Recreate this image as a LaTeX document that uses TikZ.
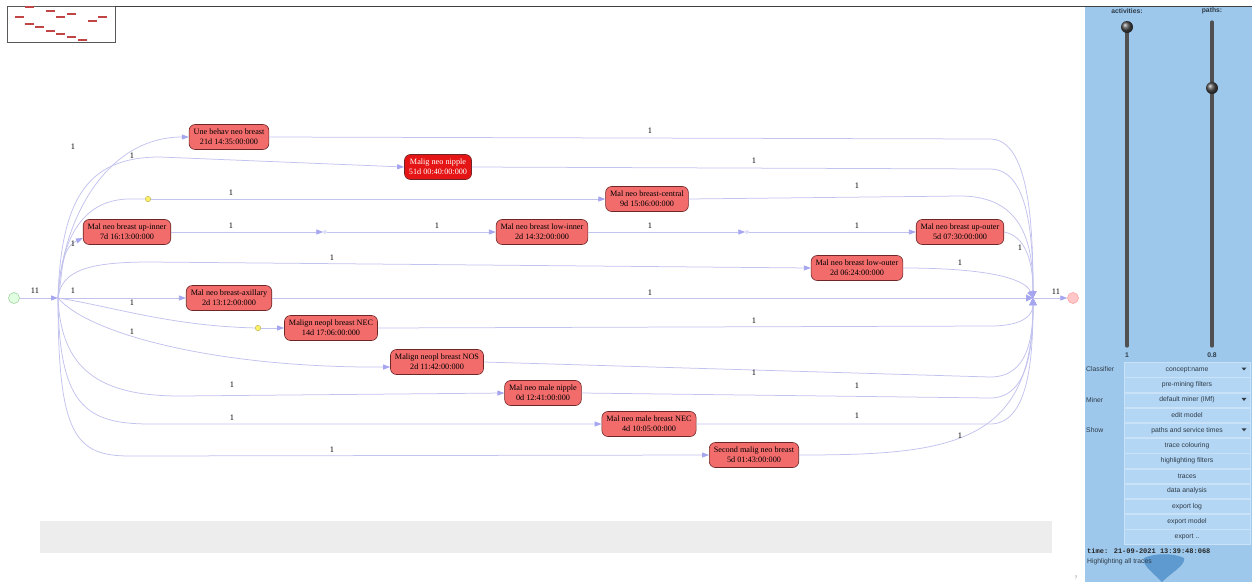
\documentclass[tikz,border=0pt]{standalone}
\usepackage{fontspec}
\setmainfont{Liberation Serif}
\newfontfamily\uisans{Liberation Sans}
\newfontfamily\uimono{Liberation Mono}
\usetikzlibrary{arrows.meta,shapes.geometric}

\definecolor{edgec}{HTML}{C2C2EF}
\definecolor{tipc}{HTML}{A6A6F0}
\definecolor{actfill}{HTML}{F26C6C}
\definecolor{actdraw}{HTML}{6E2626}
\definecolor{hotfill}{HTML}{E51515}
\definecolor{panelc}{HTML}{9DC8EC}
\definecolor{buttonc}{HTML}{B3D6F4}
\definecolor{buttonline}{HTML}{C9E2F7}
\definecolor{mapred}{HTML}{C24545}
\definecolor{trackc}{HTML}{505050}
\definecolor{uitext}{HTML}{2E3A46}
\definecolor{leafc}{HTML}{4F8FC8}

\tikzset{
  act/.style={rectangle, rounded corners=6pt, draw=actdraw, fill=actfill,
    line width=0.6pt, align=center, inner xsep=4.5pt, inner ysep=2pt,
    minimum height=25pt, font=\fontsize{8.2}{9.6}\selectfont},
  hot/.style={act, fill=hotfill, text=white},
  edge/.style={draw=edgec, line width=0.75pt},
  tip/.style={edge, -{Triangle[length=7pt,width=5pt,color=tipc]}},
  jointip/.style={edge, -{Triangle[length=7pt,width=7pt,color=tipc]}},
  lbl/.style={font=\fontsize{8.4}{9}\selectfont, inner sep=0pt},
  token/.style={circle, fill=yellow!90!orange!60, draw=yellow!60!black, line width=0.3pt,
    minimum size=5.5pt, inner sep=0pt},
  relay/.style={circle, fill=white, draw=edgec, line width=0.5pt, minimum size=3pt, inner sep=0pt},
  uibutton/.style={rectangle, fill=buttonc, draw=buttonline, line width=0.4pt,
    minimum width=126pt, minimum height=14.4pt, inner sep=0pt,
    font=\uisans\fontsize{6.8}{8}\selectfont, text=uitext},
  uilabel/.style={anchor=west, inner sep=0pt, font=\uisans\fontsize{6.8}{8}\selectfont, text=uitext},
  sliderlbl/.style={inner sep=0pt, font=\uisans\bfseries\fontsize{6.8}{7.5}\selectfont, text=uitext},
}

\begin{document}
\begin{tikzpicture}[x=1pt,y=-1pt]
\useasboundingbox (0,0) rectangle (1252,582);
\fill[white] (0,0) rectangle (1252,582);

% ---------- overview thumbnail ----------
\draw[black!65, line width=0.8pt] (7,6) rectangle (115,42);
\draw[black!75, line width=0.8pt] (115,6) -- (1252,6);
\foreach \mx/\my in {29/7, 50/11, 19/17, 60/17, 71/14, 92/21, 102/17,
                     29/24, 39/27, 50/31, 60/34, 71/37, 82/40}
  \fill[mapred] (\mx-4.5,\my-1.2) rectangle (\mx+4.5,\my+1.2);

% ---------- message bar ----------
\fill[black!7] (40,521) rectangle (1052,553);

% ---------- start / end ----------
\node[circle, minimum size=11pt, inner sep=0pt, fill=green!12, draw=green!45!black!40, line width=0.5pt] (start) at (14,298) {};
\node[circle, minimum size=11pt, inner sep=0pt, fill=red!22, draw=red!40, line width=0.5pt] (finish) at (1073,298) {};
\coordinate (S) at (58,298);
\coordinate (J) at (1033,298);

% ---------- activities ----------
\node[act] (n1)  at (229,137) {Une behav neo breast\\21d 14:35:00:000};
\node[hot] (n2)  at (438,167) {Malig neo nipple\\51d 00:40:00:000};
\node[act] (n3)  at (647,199) {Mal neo breast-central\\9d 15:06:00:000};
\node[act] (n4)  at (127,232) {Mal neo breast up-inner\\7d 16:13:00:000};
\node[act] (n5)  at (542,232) {Mal neo breast low-inner\\2d 14:32:00:000};
\node[act] (n6)  at (960,232) {Mal neo breast up-outer\\5d 07:30:00:000};
\node[act] (n7)  at (857,268) {Mal neo breast low-outer\\2d 06:24:00:000};
\node[act] (n8)  at (229,298) {Mal neo breast-axillary\\2d 13:12:00:000};
\node[act] (n9)  at (331,328) {Malign neopl breast NEC\\14d 17:06:00:000};
\node[act] (n10) at (437,362) {Malign neopl breast NOS\\2d 11:42:00:000};
\node[act] (n11) at (543,393) {Mal neo male nipple\\0d 12:41:00:000};
\node[act] (n12) at (649,424) {Mal neo male breast NEC\\4d 10:05:00:000};
\node[act] (n13) at (754,455) {Second malig neo breast\\5d 01:43:00:000};

% relay points on the sequence up-inner -> low-inner -> up-outer
\node[relay] (m1) at (325,232) {};
\node[relay] (m2) at (747,232) {};

% tokens in flight
\node[token] (t1) at (148,199) {};
\node[token] (t2) at (258,328) {};

% ---------- connectors from the split ----------
\draw[tip] (start) -- (S);
\draw[tip] (S) to[out=87,in=180] (n1.west);
\draw[tip] (S) .. controls (61,195) and (90,157) .. (160,157) -- (n2.west);
\draw[edge] (S) .. controls (61,235) and (85,199) .. (130,199) -- (t1);
\draw[tip] (t1) -- (n3.west);
\draw[tip] (S) to[out=78,in=205] ([yshift=-6pt]n4.west);
\draw[tip] (S) .. controls (61,270) and (90,262) .. (150,262) -- (n7.west);
\draw[tip] (S) -- (n8.west);
\draw[edge] (S) .. controls (110,306) and (170,326) .. (t2);
\draw[tip] (t2) -- (n9.west);
\draw[tip] (S) .. controls (90,335) and (220,368) .. ([yshift=-5pt]n10.west);
\draw[tip] (S) .. controls (61,370) and (100,396) .. (180,396) -- (n11.west);
\draw[tip] (S) .. controls (59,405) and (85,424) .. (150,424) -- (n12.west);
\draw[tip] (S) .. controls (58,435) and (75,456) .. (130,456) -- (n13.west);

% sequence chain
\draw[tip] (n4.east) -- (m1);
\draw[tip] (m1) -- (n5.west);
\draw[tip] (n5.east) -- (m2);
\draw[tip] (m2) -- (n6.west);

% ---------- connectors into the join ----------
\draw[jointip] (n1.east) -- (990,139) .. controls (1028,139) and (1033,219) .. (J);
\draw[jointip] (n2.east) -- (990,169) .. controls (1028,169) and (1033,234) .. (J);
\draw[jointip] (n3.east) -- (960,196) .. controls (1025,196) and (1033,247) .. (J);
\draw[jointip] (n6.east) .. controls (1025,236) and (1033,260) .. (J);
\draw[jointip] (n7.east) .. controls (985,268) and (1025,278) .. (J);
\draw[jointip] (n8.east) -- (J);
\draw[jointip] (n9.east) -- (990,326) .. controls (1028,326) and (1033,312) .. (J);
\draw[jointip] (n10.east) -- (990,377) .. controls (1028,377) and (1033,338) .. (J);
\draw[jointip] (n11.east) -- (990,398) .. controls (1028,398) and (1033,348) .. (J);
\draw[jointip] (n12.east) -- (990,424) .. controls (1028,424) and (1033,361) .. (J);
\draw[jointip] (n13.east) .. controls (950,455) and (1033,445) .. (J);
\draw[tip] (J) -- (finish);

% ---------- frequency labels ----------
\node[lbl] (f0)  at (35,291)   {11};
\node[lbl] (f27) at (1056,292) {11};
\node[lbl] (f1)  at (650,131) {1};
\node[lbl] (f2)  at (73,147)  {1};
\node[lbl] (f3)  at (132,156) {1};
\node[lbl] (f4)  at (754,161) {1};
\node[lbl] (f5)  at (231,193) {1};
\node[lbl] (f6)  at (857,186) {1};
\node[lbl] (f7)  at (231,226) {1};
\node[lbl] (f8)  at (437,226) {1};
\node[lbl] (f9)  at (650,226) {1};
\node[lbl] (f10) at (857,226) {1};
\node[lbl] (f11) at (73,244)  {1};
\node[lbl] (f12) at (1020,248) {1};
\node[lbl] (f13) at (332,258) {1};
\node[lbl] (f14) at (960,263) {1};
\node[lbl] (f15) at (73,291)  {1};
\node[lbl] (f16) at (650,293) {1};
\node[lbl] (f17) at (132,303) {1};
\node[lbl] (f18) at (132,332) {1};
\node[lbl] (f19) at (754,321) {1};
\node[lbl] (f20) at (754,373) {1};
\node[lbl] (f21) at (232,385) {1};
\node[lbl] (f22) at (857,386) {1};
\node[lbl] (f23) at (232,418) {1};
\node[lbl] (f24) at (857,416) {1};
\node[lbl] (f25) at (332,450) {1};
\node[lbl] (f26) at (960,436) {1};

% ---------- control panel ----------
\fill[panelc] (1085,7) rectangle (1252,582);
\node[sliderlbl] (actlbl) at (1127,11) {activities:};
\node[sliderlbl] (pathlbl) at (1212,11) {paths:};
\draw[trackc, line width=3.2pt, line cap=round] (1127,27) -- (1127,346);
\draw[trackc, line width=3.2pt, line cap=round] (1212,22) -- (1212,346);
\shade[ball color=black!70] (1127,27) circle (6pt);
\shade[ball color=black!70] (1212,88) circle (6pt);
\node[sliderlbl] (actval) at (1127,355) {1};
\node[sliderlbl] (pathval) at (1212,355) {0.8};

\foreach \i/\txt in {0/concept:name, 1/pre-mining filters, 2/default miner (IMf),
                     3/edit model, 4/paths and service times, 5/trace colouring,
                     6/highlighting filters, 7/traces, 8/data analysis,
                     9/export log, 10/export model, 11/export ..}
  \node[uibutton] (b\i) at (1187,369.5+15.2*\i) {\txt};
\foreach \i in {0,2,4}
  \fill[uitext] (1241.5,367.5+15.2*\i) -- (1246.5,367.5+15.2*\i) -- (1244,370.5+15.2*\i) -- cycle;

\node[uilabel] (cl) at (1086,369.5) {Classifier};
\node[uilabel] (mi) at (1086,399.9) {Miner};
\node[uilabel] (sh) at (1086,430.3) {Show};

% leaf-shaped pointer badge at the bottom of the panel
\fill[leafc, opacity=0.8] (1162,582) .. controls (1152,572) and (1142,565) .. (1144,558)
  .. controls (1154,553) and (1174,553) .. (1184,558)
  .. controls (1186,565) and (1172,572) .. (1162,582) -- cycle;

\node[anchor=west, inner sep=0pt, font=\uimono\bfseries\fontsize{7}{8}\selectfont, text=black!85] (clock) at (1087,551) {time: 21-09-2021 13:39:48:068};
\node[anchor=west, inner sep=0pt, font=\uisans\fontsize{6.8}{8}\selectfont, text=uitext] (status) at (1087,562) {Highlighting all traces};

\node[font=\uisans\fontsize{5}{6}\selectfont, text=black!45, inner sep=0pt] (help) at (1076,578) {?};
\end{tikzpicture}
\end{document}
